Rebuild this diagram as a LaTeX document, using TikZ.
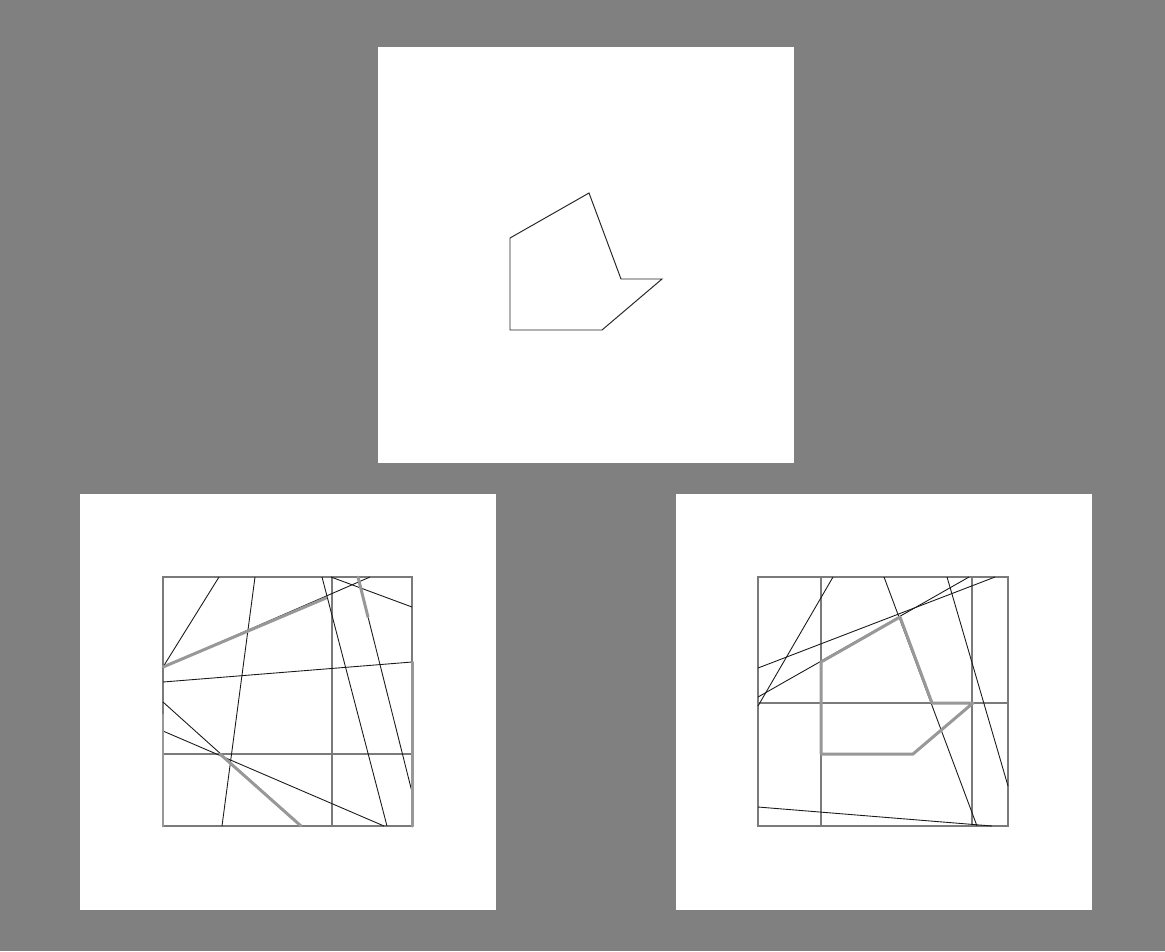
\documentclass[tikz,border=0pt]{standalone}
\usepackage{xcolor}
\usepackage{tikz}
\definecolor{BgGray}{RGB}{128,128,128}
\definecolor{GridGray}{RGB}{122,122,122}
\definecolor{EdgeGray}{RGB}{152,152,152}

\begin{document}
\begin{tikzpicture}[x=0.02cm, y=-0.02cm,
    panel/.style={fill=white},
    gridline/.style={draw=GridGray, line width=0.75pt},
    cutline/.style={draw=black!90, line width=0.5pt},
    polyedge/.style={draw=EdgeGray, line width=1.7pt, line join=round, line cap=round},
    outline/.style={draw=black!85, line width=0.55pt}
  ]
  \fill[BgGray] (0,0) rectangle (1165,951);
  \useasboundingbox (0,0) rectangle (1165,951);

  \fill[panel] (378,47) rectangle (794,463);
  \fill[panel] (80,494) rectangle (496,910);
  \fill[panel] (676,494) rectangle (1092,910);

  \draw[outline] (510,238) -- (589,193) -- (621,279) -- (662,279)
                 -- (602,330) -- (510,330) -- cycle;

  \draw[gridline] (163,577) rectangle (412,826);
  \draw[gridline] (332,577) -- (332,826) (163,754) -- (412,754);
  \foreach \xa/\ya/\xb/\yb in {219/577/163/667, 255/577/222/826,
      163/667/370/577, 163/682/412/662, 322/577/387/826,
      331/577/412/607, 358/577/412/792, 163/702/301/826,
      163/731/384/826} {
    \draw[cutline] (\xa,\ya) -- (\xb,\yb);
  }
  \foreach \xa/\ya/\xb/\yb in {163/667/326/598, 358/577/368/617,
      220/754/301/826, 412/662/412/826, 163/715/163/826} {
    \draw[polyedge] (\xa,\ya) -- (\xb,\yb);
  }

  \draw[gridline] (758,577) rectangle (1008,826);
  \draw[gridline] (821,577) -- (821,826) (972,577) -- (972,826)
                  (758,703) -- (1008,703);
  \foreach \xa/\ya/\xb/\yb in {833/577/758/706, 758/668/995/577,
      758/697/969/577, 884/577/977/826, 947/577/1008/786,
      758/807/992/826} {
    \draw[cutline] (\xa,\ya) -- (\xb,\yb);
  }
  \begin{scope}[shift={(311,424)}]
    \draw[polyedge] (510,238) -- (589,193) -- (621,279) -- (662,279)
                    -- (602,330) -- (510,330) -- cycle;
  \end{scope}
\end{tikzpicture}
\end{document}
